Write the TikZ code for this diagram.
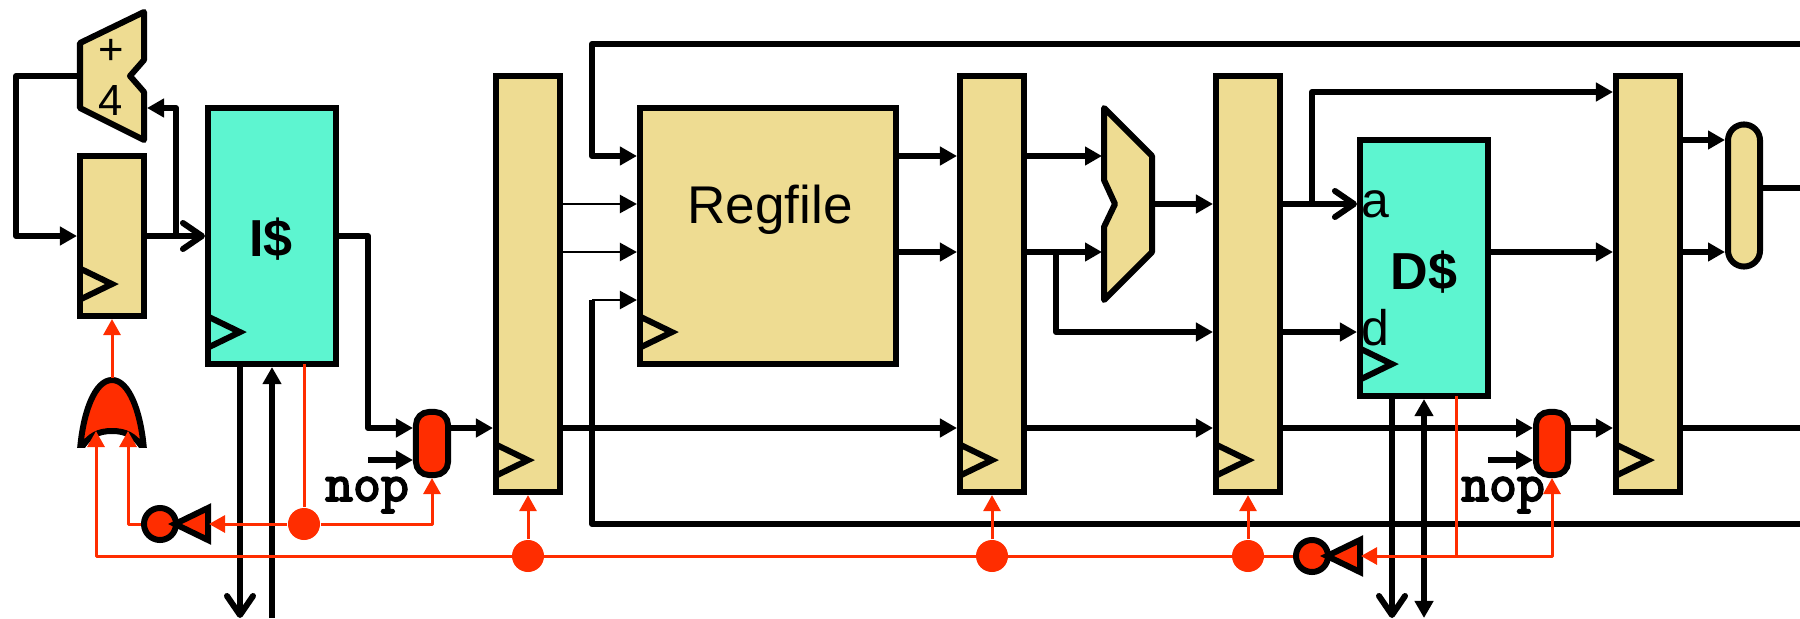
\documentclass[tikz,border=0pt]{standalone}
\usepackage{fontspec}
\setmainfont{Liberation Sans}
\newfontfamily\nopfont[FakeBold=3.5]{Latin Modern Mono}
\usetikzlibrary{arrows.meta}
\definecolor{regtan}{RGB}{238,220,146}
\definecolor{cachegreen}{RGB}{93,245,208}
\definecolor{ctrlred}{RGB}{255,45,0}
\tikzset{
  wire/.style={line width=0.06cm,line join=round},
  thinwire/.style={line width=0.024cm,line join=round},
  ctrl/.style={line width=0.03cm,ctrlred,line join=round},
  tip/.tip={Triangle[length=0.17cm,width=0.18cm]},
  opentip/.tip={Straight Barb[length=0.19cm,width=0.26cm,round]},
  redtip/.tip={Triangle[length=0.16cm,width=0.17cm]},
  pipereg/.style={draw,line width=0.06cm,fill=regtan,minimum width=0.64cm,minimum height=4.16cm,inner sep=0},
  cachebox/.style={draw,line width=0.06cm,fill=cachegreen,minimum width=1.28cm,minimum height=2.56cm,inner sep=0},
  muxred/.style={draw,line width=0.06cm,fill=ctrlred,rounded corners=0.13cm,minimum width=0.32cm,minimum height=0.63cm,inner sep=0},
  ctrldot/.style={circle,fill=ctrlred,minimum size=0.32cm,inner sep=0},
  bubble/.style={circle,draw,line width=0.06cm,fill=ctrlred,minimum size=0.32cm,inner sep=0},
  invtri/.style={draw,line width=0.06cm,fill=ctrlred,line join=miter},
  lbl/.style={inner sep=0,font=\fontsize{14.2}{16}\selectfont},
  addlbl/.style={inner sep=0,font=\fontsize{12.4}{14}\selectfont},
  bigtxt/.style={inner sep=0,font=\fontsize{15.1}{17}\selectfont},
  boldtxt/.style={inner sep=0,font=\fontsize{14.8}{17}\selectfont\bfseries},
  noptxt/.style={inner sep=0,font=\fontsize{15.4}{17}\selectfont\nopfont},
}
\newcommand{\clkmark}[1]{\draw[line width=0.06cm,line join=miter] (#1.south west) ++(2,-51) -- ++(33,16) -- ++(-33,16);}
\begin{document}
\begin{tikzpicture}[x=0.01cm,y=-0.01cm]
\useasboundingbox (0,0) rectangle (1800,618);
% rows and free ends
\coordinate (rowf) at (0,92);
\coordinate (rowg) at (0,140);
\coordinate (rowa) at (0,156);
\coordinate (rowh) at (0,188);
\coordinate (rowb) at (0,204);
\coordinate (rowc) at (0,252);
\coordinate (rowd) at (0,300);
\coordinate (rowe) at (0,332);
\coordinate (bus) at (0,428);
\coordinate (nopy) at (0,460);
\coordinate (redge) at (1800,0);

% blocks
\draw[wire,fill=regtan] (80,43) -- (144,12) -- (144,60) -- (130,76) -- (144,92) -- (144,140) -- (80,108) -- cycle;
\draw[wire,fill=regtan] (1104,108) -- (1152,156) -- (1152,252) -- (1104,300) -- (1104,227) -- (1115,204) -- (1104,180) -- cycle;
\node[addlbl] (plus) at (111,52) {+};
\node[addlbl] (four) at (110.5,100) {4};
\node[pipereg,minimum height=1.6cm] (pc) at (112,236) {};
\node[cachebox] (ic) at (272,236) {};
\node[boldtxt] (iclbl) at (271,239) {I\$};
\node[pipereg] (fd) at (528,284) {};
\node[draw,line width=0.06cm,fill=regtan,minimum width=2.56cm,minimum height=2.56cm,inner sep=0] (rf) at (768,236) {};
\node[bigtxt] (rflbl) at (770,210) {Regfile};
\node[pipereg] (dx) at (992,284) {};
\node[pipereg] (xm) at (1248,284) {};
\node[cachebox] (dc) at (1424,268) {};
\node[boldtxt] (dclbl) at (1424,272) {D\$};
\node[lbl] (dca) at (1375,204) {a};
\node[lbl] (dcd) at (1375,328) {d};
\node[pipereg] (mw) at (1648,284) {};
\node[muxred] (mxf) at (432,443.5) {};
\node[muxred] (mxm) at (1552,443.5) {};
\node[muxred,fill=regtan,rounded corners=0.16cm,minimum height=1.42cm] (wbmux) at (1744,195.5) {};
\foreach \r in {pc,ic,fd,rf,dx,xm,dc,mw} {\clkmark{\r}}
\node[noptxt] (nopf) at (367,495) {nop};
\node[noptxt] (nopm) at (1503,495) {nop};

% fetch
\coordinate (addout) at (80,76);
\coordinate (addin) at (147,108);
\coordinate (fbl) at (16,76);
\coordinate (pcsplit) at (176,236);
\coordinate (icturn) at (368,236);
\coordinate (nopfin) at (368,460);
\coordinate (icaddr) at (240,618);
\coordinate (icdata) at (272,618);
\draw[wire,-tip] (addout) -- (fbl) |- (pc.west);
\draw[wire,-opentip] (pc.east) -- (ic.west);
\draw[wire,-tip] (pcsplit) |- (addin);
\draw[wire,-tip] (ic.east) -- (icturn) |- (mxf.west |- bus);
\draw[wire,-tip] (nopfin) -- (mxf.west |- nopfin);
\draw[wire,-tip] (mxf.east |- bus) -- (fd.west |- bus);
\draw[wire,-opentip] (icaddr |- ic.south) -- (icaddr);
\draw[wire,-tip] (icdata) -- (icdata |- ic.south);

% decode
\coordinate (wbtop) at (592,44);
\coordinate (wbbot) at (592,524);
\draw[wire,-tip] (redge |- wbtop) -- (wbtop) |- (rf.west |- rowa);
\draw[thinwire,-tip] (fd.east |- rowb) -- (rf.west |- rowb);
\draw[thinwire,-tip] (fd.east |- rowc) -- (rf.west |- rowc);
\draw[thinwire,-tip] (wbbot |- rowd) -- (rf.west |- rowd);
\draw[wire] (redge |- wbbot) -- (wbbot) -- (wbbot |- rowd);
\draw[wire,-tip] (rf.east |- rowa) -- (dx.west |- rowa);
\draw[wire,-tip] (rf.east |- rowc) -- (dx.west |- rowc);
\draw[wire,-tip] (fd.east |- bus) -- (dx.west |- bus);

% execute
\coordinate (alua) at (1102,156);
\coordinate (alub) at (1102,252);
\coordinate (aluout) at (1152,204);
\coordinate (dxsplit) at (1056,252);
\draw[wire,-tip] (dx.east |- alua) -- (alua);
\draw[wire,-tip] (dx.east |- alub) -- (alub);
\draw[wire,-tip] (aluout) -- (xm.west |- aluout);
\draw[wire,-tip] (dxsplit) |- (xm.west |- rowe);
\draw[wire,-tip] (dx.east |- bus) -- (xm.west |- bus);

% memory
\coordinate (xmsplit) at (1312,204);
\coordinate (nopmin) at (1488,460);
\coordinate (dcaddr) at (1392,618);
\coordinate (dcdata) at (1424,618);
\draw[wire,-opentip] (xm.east |- rowb) -- (dc.west |- rowb);
\draw[wire,-tip] (xmsplit) |- (mw.west |- rowf);
\draw[wire,-tip] (xm.east |- rowe) -- (dc.west |- rowe);
\draw[wire,-tip] (dc.east |- rowc) -- (mw.west |- rowc);
\draw[wire,-tip] (xm.east |- bus) -- (mxm.west |- bus);
\draw[wire,-tip] (nopmin) -- (mxm.west |- nopmin);
\draw[wire,-tip] (mxm.east |- bus) -- (mw.west |- bus);
\draw[wire,-opentip] (dcaddr |- dc.south) -- (dcaddr);
\draw[wire,{tip}-{tip}] (dcdata) -- (dc.south);

% writeback
\draw[wire,-tip] (mw.east |- rowg) -- (wbmux.west |- rowg);
\draw[wire,-tip] (mw.east |- rowc) -- (wbmux.west |- rowc);
\draw[wire] (wbmux.east |- rowh) -- (redge |- rowh);
\draw[wire] (mw.east |- bus) -- (redge |- bus);

% stall logic
\begin{scope}
  \clip (60,360) rectangle (170,447);
  \draw[wire,fill=ctrlred,line join=miter] (80,450) .. controls (83,412) and (95,380) .. (112,380)
    .. controls (129,380) and (141,412) .. (144,450)
    .. controls (135,435) and (125,431) .. (112,431) .. controls (99,431) and (89,435) .. (80,450) -- cycle;
\end{scope}
\coordinate (ortop) at (112,378);
\coordinate (orl) at (96,431);
\coordinate (orr) at (128,431);
\coordinate (corner) at (96,556);
\coordinate (icstall) at (304,364);
\coordinate (dcstall) at (1456,396);
\coordinate (dcjoin) at (1456,556);
\coordinate (invfin) at (209,524);
\coordinate (invmin) at (1361,556);
\node[bubble] (bubf) at (160,524) {};
\node[bubble] (bubm) at (1312,556) {};
\draw[invtri] (208,508) -- (208,540) -- (175,524) -- cycle;
\draw[invtri] (1360,540) -- (1360,572) -- (1327,556) -- cycle;
\node[ctrldot] (df) at (304,524) {};
\node[ctrldot] (dfd) at (528,556) {};
\node[ctrldot] (ddx) at (992,556) {};
\node[ctrldot] (dxm) at (1248,556) {};
\draw[ctrl,-redtip] (ortop) -- (pc.south);
\draw[ctrl] (icstall) -- (df);
\draw[ctrl,-redtip] (df) -- (invfin);
\draw[ctrl,-redtip] (df) -| (mxf.south);
\draw[ctrl,-redtip] (bubf) -| (orr);
\draw[ctrl,-redtip] (dfd) -- (fd.south);
\draw[ctrl,-redtip] (ddx) -- (dx.south);
\draw[ctrl,-redtip] (dxm) -- (xm.south);
\draw[ctrl,-redtip] (bubm) -- (corner) -- (orl);
\draw[ctrl] (dcstall) -- (dcjoin);
\draw[ctrl,-redtip] (dcjoin) -- (invmin);
\draw[ctrl,-redtip] (dcjoin) -| (mxm.south);
\end{tikzpicture}
\end{document}
